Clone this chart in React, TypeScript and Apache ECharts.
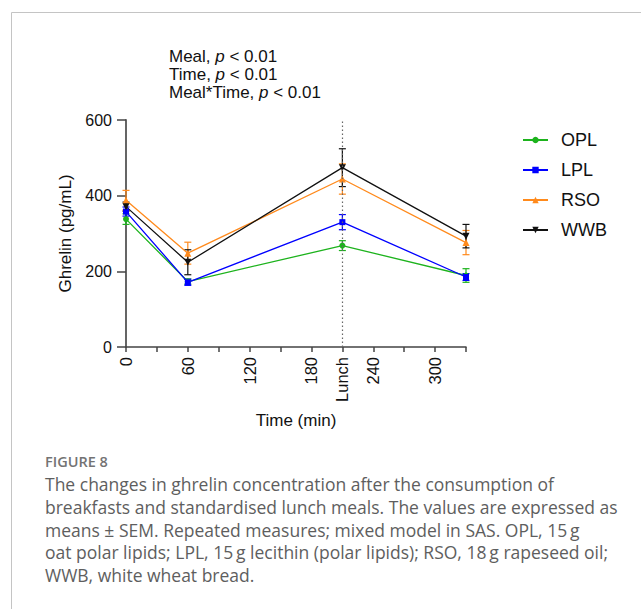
import React, { useEffect, useRef } from 'react';
import * as echarts from 'echarts';

const times = [0, 60, 210, 330];
const seriesNames = ['OPL', 'LPL', 'RSO', 'WWB'];
const oplMean = [338, 173, 268, 189];
const oplSem = [14, 7, 13, 18];
const lplMean = [358, 171, 330, 185];
const lplSem = [12, 8, 20, 9];
const rsoMean = [388, 248, 444, 276];
const rsoSem = [26, 29, 40, 32];
const wwbMean = [371, 224, 474, 293];
const wwbSem = [12, 33, 50, 31];
const xTickLabels: Record<number, string> = { 0: '0', 60: '60', 120: '120', 180: '180', 210: 'Lunch', 240: '240', 300: '300' };
const lunchTime = 210;
const statsLines = [
  ['Meal', '< 0.01'],
  ['Time', '< 0.01'],
  ['Meal*Time', '< 0.01'],
];
const captionTitle = 'FIGURE 8';
const captionLines = [
  'The changes in ghrelin concentration after the consumption of',
  'breakfasts and standardised lunch meals. The values are expressed as',
  'means \u00b1 SEM. Repeated measures; mixed model in SAS. OPL, 15\u2009g',
  'oat polar lipids; LPL, 15\u2009g lecithin (polar lipids); RSO, 18\u2009g rapeseed oil;',
  'WWB, white wheat bread.',
];

const colors = ['#1db31d', '#0000ff', '#ff8a1c', '#111111'];
const symbols = ['circle', 'rect', 'triangle', 'path://M0,0 L10,0 L5,9 Z'];
const symbolSizes = [6, 6, 7, 7];
const means = [oplMean, lplMean, rsoMean, wwbMean];
const sems = [oplSem, lplSem, rsoSem, wwbSem];

const FONT = 'Liberation Sans';
const CAPFONT = 'Open Sans';

export default function App() {
  const ref = useRef<HTMLDivElement>(null);
  useEffect(() => {
    document.body.style.margin = '0';
    const chart = echarts.init(ref.current!, null, { renderer: 'svg' });
    const series: any[] = [];
    seriesNames.forEach((name, i) => {
      const color = colors[i];
      series.push({
        name: name + ' SEM',
        type: 'custom',
        data: times.map((t, j) => [t, means[i][j] - sems[i][j], means[i][j] + sems[i][j]]),
        encode: { x: 0, y: [1, 2] },
        silent: true,
        z: 2,
        renderItem: (params: any, api: any) => {
          const x = api.value(0);
          const lo = api.coord([x, api.value(1)]);
          const hi = api.coord([x, api.value(2)]);
          const w = 3.5;
          const st = { stroke: color, lineWidth: 1.2 };
          return {
            type: 'group',
            children: [
              { type: 'line', shape: { x1: lo[0], y1: lo[1], x2: hi[0], y2: hi[1] }, style: st },
              { type: 'line', shape: { x1: hi[0] - w, y1: hi[1], x2: hi[0] + w, y2: hi[1] }, style: st },
              { type: 'line', shape: { x1: lo[0] - w, y1: lo[1], x2: lo[0] + w, y2: lo[1] }, style: st },
            ],
          };
        },
      });
      series.push({
        name,
        type: 'line',
        data: times.map((t, j) => [t, means[i][j]]),
        symbol: symbols[i],
        symbolSize: symbolSizes[i],
        showAllSymbol: true,
        z: 3,
        lineStyle: { color, width: 1.3 },
        itemStyle: { color },
        markLine:
          i === 0
            ? {
                silent: true,
                symbol: 'none',
                label: { show: false },
                lineStyle: { color: '#666', type: [1.5, 2.5], width: 1.2 },
                data: [{ xAxis: lunchTime }],
              }
            : undefined,
      });
    });

    const graphic: any[] = [
      {
        type: 'rect',
        shape: { x: 11.5, y: 12.5, width: 700, height: 700 },
        style: { fill: 'none', stroke: '#c4c4c4', lineWidth: 1 },
        silent: true,
      },
    ];
    statsLines.forEach((l, k) => {
      graphic.push({
        type: 'text',
        x: 169,
        y: 56 + k * 18,
        style: {
          text: `{n|${l[0]}, }{i|p}{n| ${l[1]}}`,
          verticalAlign: 'middle',
          rich: {
            n: { fontFamily: FONT, fontSize: 17, fill: '#111' },
            i: { fontFamily: FONT, fontSize: 17, fontStyle: 'italic', fill: '#111' },
          },
        },
      });
    });
    graphic.push({
      type: 'text',
      x: 45,
      y: 461,
      style: {
        text: captionTitle,
        fontFamily: CAPFONT,
        fontWeight: 600,
        fontSize: 14.5,
        fill: '#737373',
        verticalAlign: 'middle',
      },
    });
    captionLines.forEach((t, k) => {
      graphic.push({
        type: 'text',
        x: 45,
        y: 484 + k * 22.8,
        style: {
          text: t,
          fontFamily: CAPFONT,
          fontSize: 17.5,
          fill: '#5e5e5e',
          verticalAlign: 'middle',
        },
      });
    });

    chart.setOption({
      animation: false,
      backgroundColor: '#fff',
      grid: { left: 126, top: 120, width: 340, height: 227, containLabel: false },
      legend: {
        data: seriesNames,
        orient: 'vertical',
        left: 517,
        top: 126,
        itemWidth: 25,
        itemHeight: 8,
        itemGap: 12,
        textStyle: { fontFamily: FONT, fontSize: 18, color: '#111', lineHeight: 18, padding: [0, 0, 0, 8] },
      },
      xAxis: {
        type: 'value',
        min: 0,
        max: 330,
        interval: 30,
        name: 'Time (min)',
        nameLocation: 'middle',
        nameGap: 65,
        nameTextStyle: { fontFamily: FONT, fontSize: 17, color: '#111' },
        axisLine: { show: true, onZero: false, lineStyle: { color: '#444', width: 1.5 } },
        axisTick: { show: true, length: 5, lineStyle: { color: '#444', width: 1.5 } },
        splitLine: { show: false },
        axisLabel: {
          rotate: 90,
          margin: 10,
          fontFamily: FONT,
          fontSize: 16.5,
          color: '#111',
          formatter: (v: number) => xTickLabels[v] ?? '',
        },
      },
      yAxis: {
        type: 'value',
        min: 0,
        max: 600,
        interval: 200,
        name: 'Ghrelin (pg/mL)',
        nameLocation: 'middle',
        nameGap: 48,
        nameTextStyle: { fontFamily: FONT, fontSize: 17, color: '#111' },
        axisLine: { show: true, lineStyle: { color: '#555', width: 1.8 } },
        axisTick: { show: true, length: 9, lineStyle: { color: '#444', width: 1.5 } },
        splitLine: { show: false },
        axisLabel: { margin: 14, fontFamily: FONT, fontSize: 16, color: '#111' },
      },
      series,
      graphic,
    });
    return () => chart.dispose();
  }, []);
  return <div ref={ref} style={{ width: 641, height: 609 }} />;
}
